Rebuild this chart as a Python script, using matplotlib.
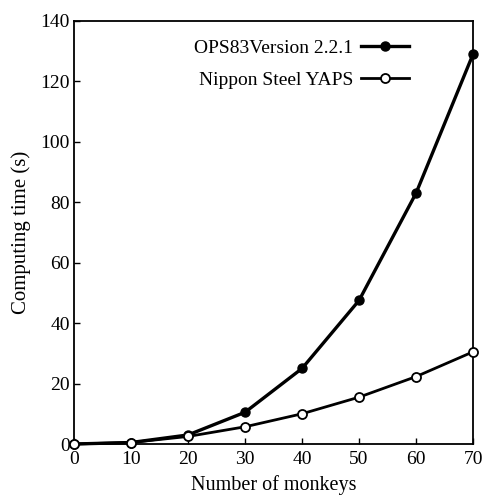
import matplotlib
matplotlib.use("Agg")
import matplotlib.pyplot as plt

monkeys = [0, 10, 20, 30, 40, 50, 60, 70]
ops83 = [0, 0.5, 3, 10.5, 25, 47.5, 83, 129]
yaps = [0, 0.5, 2.5, 5.7, 10, 15.5, 22.3, 30.5]

plt.rcParams["font.family"] = ["Liberation Serif", "DejaVu Serif"]

fig = plt.figure(figsize=(4.82, 4.95), dpi=100)
ax = fig.add_axes([0.1535, 0.103, 0.828, 0.855])

ax.plot(monkeys, ops83, color="black", linewidth=2.4, marker="o", markersize=6.5,
        markerfacecolor="black", markeredgecolor="black", label="OPS83Version 2.2.1",
        clip_on=False, zorder=3)
ax.plot(monkeys, yaps, color="black", linewidth=2.0, marker="o", markersize=6.5,
        markerfacecolor="white", markeredgecolor="black", markeredgewidth=1.3,
        label="Nippon Steel YAPS", clip_on=False, zorder=3)

ax.set_xlim(0, 70)
ax.set_ylim(0, 140)
ax.set_xticks(range(0, 71, 10))
ax.set_yticks(range(0, 141, 20))
ax.tick_params(direction="in", length=4, width=1, labelsize=14)
ax.tick_params(axis="x", pad=5)
ax.tick_params(axis="y", pad=3)
for s in ax.spines.values():
    s.set_linewidth(1.3)

ax.set_xlabel("Number of monkeys", fontsize=14.5, labelpad=5)
ax.set_ylabel("Computing time (s)", fontsize=15, labelpad=7)

ax.legend(loc="upper right", bbox_to_anchor=(0.86, 0.975), frameon=False,
          markerfirst=False, fontsize=14, handlelength=2.5, labelspacing=0.75,
          handletextpad=0.4, borderaxespad=0)

fig.savefig("out.png", dpi=100)
